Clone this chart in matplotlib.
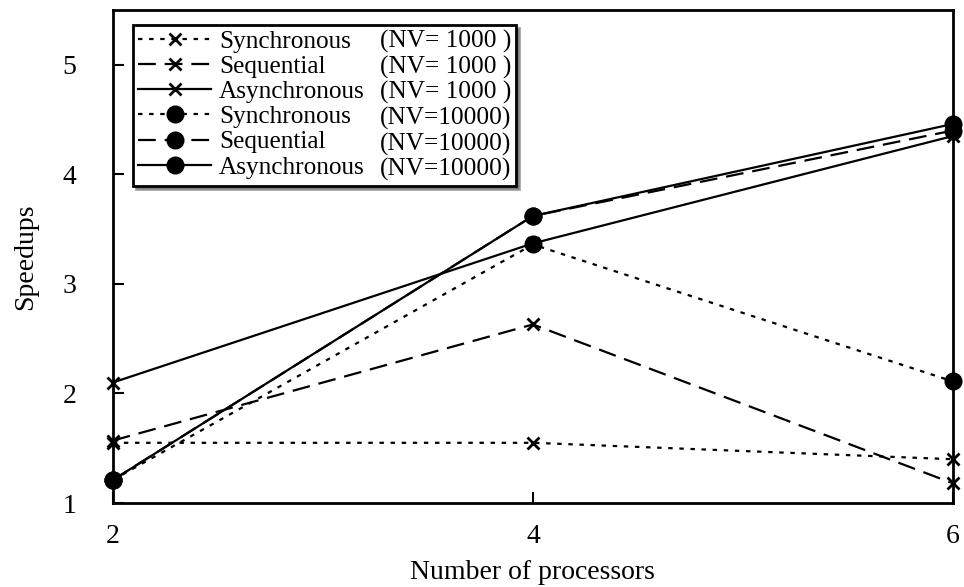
import matplotlib
matplotlib.use("Agg")
import matplotlib.pyplot as plt
from matplotlib.lines import Line2D

plt.rcParams['font.family'] = ['Liberation Serif', 'DejaVu Serif']

# processors on the x axis
procs = [2, 4, 6]

# speedups
sync_1000 = [1.55, 1.55, 1.40]
seq_1000 = [1.57, 2.63, 1.18]
async_1000 = [2.10, 3.37, 4.35]
sync_10000 = [1.21, 3.36, 2.11]
seq_10000 = [1.21, 3.62, 4.40]
async_10000 = [1.21, 3.62, 4.46]

names = ['Synchronous', 'Sequential', 'Asynchronous',
         'Synchronous', 'Sequential', 'Asynchronous']
nv_labels = ['(NV= 1000 )', '(NV= 1000 )', '(NV= 1000 )',
             '(NV=10000)', '(NV=10000)', '(NV=10000)']

dotted = (0, (2, 3))
dashed = (0, (8, 4))

series = [
    (sync_1000, dotted, 'x'),
    (seq_1000, dashed, 'x'),
    (async_1000, '-', 'x'),
    (sync_10000, dotted, 'o'),
    (seq_10000, dashed, 'o'),
    (async_10000, '-', 'o'),
]

fig = plt.figure(figsize=(9.64, 5.87), dpi=100)
ax = fig.add_axes([0.117, 0.143, 0.8716, 0.840])

handles = []
for vals, ls, mk in series:
    ms = 9 if mk == 'x' else 11
    line, = ax.plot(procs, vals, color='black', lw=1.6, linestyle=ls,
                    marker=mk, markersize=ms, markeredgewidth=2,
                    clip_on=False, zorder=3)
    handles.append(line)

ax.set_xlim(2, 6)
ax.set_ylim(1, 5.5)
ax.set_xticks(procs)
ax.set_yticks([1, 2, 3, 4, 5])
ax.tick_params(direction='in', length=8, width=1.5, labelsize=20)
ax.tick_params(axis='y', pad=26)
ax.tick_params(axis='x', pad=15)
for sp in ax.spines.values():
    sp.set_linewidth(2)

ax.set_xlabel('Number of processors', fontsize=20, labelpad=8)
ax.set_ylabel('Speedups', fontsize=20, labelpad=18)

# second legend column holds the NV text, with invisible handles
blank = [Line2D([], [], color='none') for _ in nv_labels]
leg = ax.legend(handles + blank, names + nv_labels, ncol=2,
                loc='upper left', bbox_to_anchor=(0.024, 0.97),
                borderaxespad=0, fontsize=18.2, handlelength=2.9,
                handletextpad=0.3, columnspacing=-2.6, labelspacing=0.1,
                borderpad=0.2, frameon=True, fancybox=False, shadow=True,
                edgecolor='black', framealpha=1)
leg.get_frame().set_linewidth(2)

fig.savefig('out.png', dpi=100)
